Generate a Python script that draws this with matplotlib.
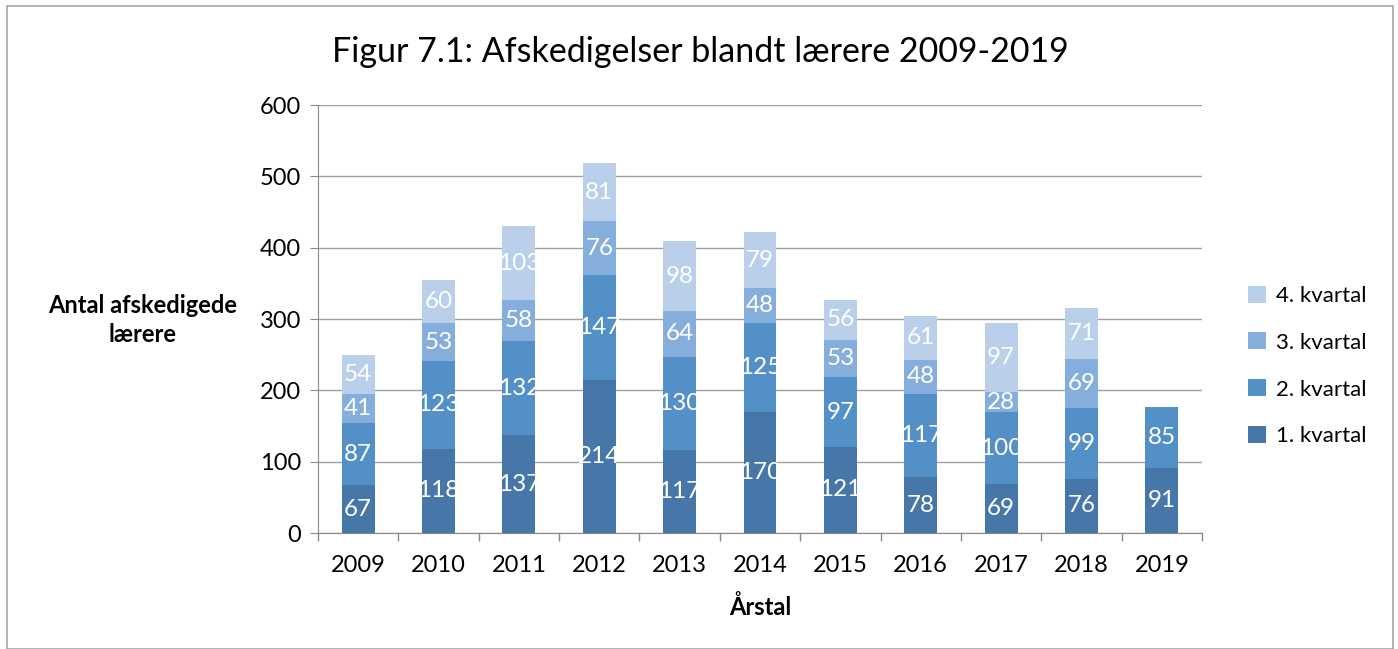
import matplotlib
matplotlib.use("Agg")
import matplotlib.pyplot as plt
from matplotlib.patches import Rectangle
import numpy as np

years = ["2009", "2010", "2011", "2012", "2013", "2014", "2015", "2016", "2017", "2018", "2019"]
q1 = [67, 118, 137, 214, 117, 170, 121, 78, 69, 76, 91]
q2 = [87, 123, 132, 147, 130, 125, 97, 117, 100, 99, 85]
q3 = [41, 53, 58, 76, 64, 48, 53, 48, 28, 69, 0]
q4 = [54, 60, 103, 81, 98, 79, 56, 61, 97, 71, 0]
series = [("1. kvartal", q1), ("2. kvartal", q2), ("3. kvartal", q3), ("4. kvartal", q4)]
colors = ["#4677A8", "#5390C8", "#86AEDD", "#B9CFEA"]

plt.rcParams['font.family'] = ['Lato', 'DejaVu Sans']

fig = plt.figure(figsize=(13.98, 6.49), dpi=100)
W, H = 1398, 649
ax = fig.add_axes([318 / W, 1 - 533 / H, (1202 - 318) / W, (533 - 105) / H])

x = np.arange(len(years))
bottom = np.zeros(len(years))
handles = []
for (name, vals), c in zip(series, colors):
    v = np.array(vals, dtype=float)
    bars = ax.bar(x, v, bottom=bottom, width=0.41, color=c, edgecolor='none', label=name, zorder=3)
    for xi, b, val in zip(x, bottom, v):
        if val > 0:
            ax.text(xi, b + val / 2, f"{int(val)}", ha='center', va='center', color='white',
                    fontsize=17.5, zorder=4)
    bottom += v
    handles.append(bars)

ax.set_xlim(-0.5, len(years) - 0.5)
ax.set_ylim(0, 600)
ax.set_yticks(range(0, 601, 100))
ax.set_xticks(x)
ax.set_xticklabels(years)
ax.set_xticks(np.arange(-0.5, len(years), 1), minor=True)
ax.tick_params(axis='x', which='major', length=0, labelsize=17, pad=16)
ax.tick_params(axis='x', which='minor', length=6, color='#898989', width=1)
ax.tick_params(axis='y', length=6, color='#898989', labelsize=17, pad=6)
ax.yaxis.grid(True, color='#A0A0A0', linewidth=1, zorder=0)
for s in ['top', 'right']:
    ax.spines[s].set_visible(False)
for s in ['left', 'bottom']:
    ax.spines[s].set_color('#898989')
    ax.spines[s].set_zorder(5)

fig.text(760 / W, 1 - 607 / H, "Årstal", ha='center', va='center', fontsize=17, fontweight='bold')
fig.text(143 / W, 1 - 320 / H, "Antal afskedigede\nlærere", ha='center', va='center',
         fontsize=17, fontweight='bold', linespacing=1.3)
fig.text(700 / W, 1 - 52 / H, "Figur 7.1: Afskedigelser blandt lærere 2009-2019",
         ha='center', va='center', fontsize=24.5)

leg = fig.legend(handles[::-1], [s[0] for s in series][::-1], loc='center left',
                 bbox_to_anchor=(1228 / W, 1 - 366 / H), frameon=False, fontsize=16,
                 handlelength=0.8, handleheight=0.8, labelspacing=1.2, handletextpad=0.45)

fig.patches.append(Rectangle((7 / W, 0), (1393 - 7) / W, 1 - 6 / H, transform=fig.transFigure,
                             fill=False, edgecolor='#A6A6A6', linewidth=1.2))

fig.savefig("out.png", dpi=100)
